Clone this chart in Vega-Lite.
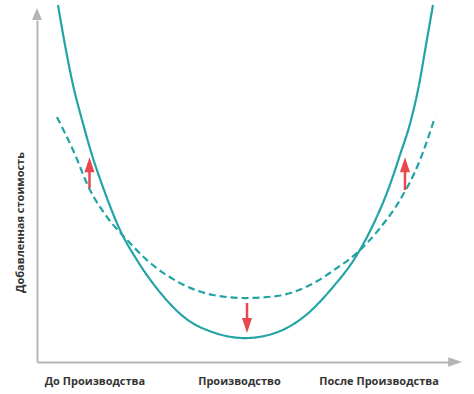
{
  "$schema": "https://vega.github.io/schema/vega-lite/v6.json",
  "width": 413,
  "height": 342,
  "autosize": {"type": "none"},
  "padding": {"left": 37, "top": 20, "right": 24, "bottom": 32},
  "background": "white",
  "config": {"view": {"stroke": null}, "axis": {"grid": false}},
  "encoding": {
    "x": {
      "field": "x", "type": "quantitative",
      "scale": {"domain": [0, 100], "nice": false, "zero": false},
      "axis": {
        "title": null, "values": [13.9, 48.9, 82.7],
        "labelExpr": "datum.value < 30 ? 'До Производства' : datum.value < 70 ? 'Производство' : 'После Производства'",
        "ticks": false, "domainColor": "#b5b5b5", "domainWidth": 2,
        "labelFont": "Open Sans", "labelFontWeight": "bold", "labelFontSize": 11,
        "labelColor": "#333333", "labelPadding": 13, "labelFlush": false, "labelOverlap": false
      }
    },
    "y": {
      "field": "y", "type": "quantitative",
      "scale": {"domain": [0, 100], "nice": false, "zero": false},
      "axis": {
        "title": "Добавленная стоимость", "labels": false, "ticks": false,
        "domainColor": "#b5b5b5", "domainWidth": 2,
        "titleFont": "Open Sans", "titleFontWeight": "bold", "titleFontSize": 11,
        "titleColor": "#333333", "titleX": -17, "titleY": 202,
        "titleAlign": "center", "titleBaseline": "middle", "titleAngle": 270
      }
    }
  },
  "layer": [
    {
      "data": {"values": [
        {"series": "Новая", "x": 5.08, "y": 104.4},
        {"series": "Новая", "x": 6.78, "y": 92.7},
        {"series": "Новая", "x": 8.72, "y": 81.0},
        {"series": "Новая", "x": 10.90, "y": 70.8},
        {"series": "Новая", "x": 13.32, "y": 60.5},
        {"series": "Новая", "x": 16.22, "y": 50.3},
        {"series": "Новая", "x": 20.10, "y": 38.6},
        {"series": "Новая", "x": 24.21, "y": 29.8},
        {"series": "Новая", "x": 29.30, "y": 21.1},
        {"series": "Новая", "x": 35.84, "y": 12.9},
        {"series": "Новая", "x": 43.10, "y": 8.5},
        {"series": "Новая", "x": 50.36, "y": 7.0},
        {"series": "Новая", "x": 57.63, "y": 8.48},
        {"series": "Новая", "x": 65.13, "y": 13.74},
        {"series": "Новая", "x": 71.67, "y": 21.93},
        {"series": "Новая", "x": 77.00, "y": 30.41},
        {"series": "Новая", "x": 81.36, "y": 40.06},
        {"series": "Новая", "x": 84.99, "y": 50.29},
        {"series": "Новая", "x": 87.89, "y": 60.53},
        {"series": "Новая", "x": 90.56, "y": 70.76},
        {"series": "Новая", "x": 92.49, "y": 81.0},
        {"series": "Новая", "x": 94.19, "y": 92.7},
        {"series": "Новая", "x": 95.88, "y": 104.4},
        {"series": "Исходная", "x": 4.84, "y": 71.6},
        {"series": "Исходная", "x": 8.72, "y": 62.0},
        {"series": "Исходная", "x": 12.83, "y": 50.3},
        {"series": "Исходная", "x": 16.95, "y": 42.4},
        {"series": "Исходная", "x": 21.79, "y": 35.7},
        {"series": "Исходная", "x": 26.63, "y": 29.8},
        {"series": "Исходная", "x": 34.62, "y": 23.1},
        {"series": "Исходная", "x": 42.62, "y": 19.6},
        {"series": "Исходная", "x": 50.36, "y": 18.7},
        {"series": "Исходная", "x": 58.11, "y": 19.3},
        {"series": "Исходная", "x": 65.62, "y": 22.22},
        {"series": "Исходная", "x": 72.64, "y": 27.49},
        {"series": "Исходная", "x": 77.72, "y": 32.16},
        {"series": "Исходная", "x": 83.05, "y": 39.18},
        {"series": "Исходная", "x": 87.89, "y": 47.37},
        {"series": "Исходная", "x": 92.74, "y": 59.06},
        {"series": "Исходная", "x": 96.37, "y": 71.64}
      ]},
      "mark": {"type": "line", "interpolate": "monotone", "strokeWidth": 2.2, "color": "#22a3a6"},
      "encoding": {
        "strokeDash": {
          "field": "series", "type": "nominal",
          "scale": {"domain": ["Новая", "Исходная"], "range": [[1, 0], [7, 4]]},
          "legend": null
        }
      }
    },
    {
      "data": {"values": [
        {"x": 12.71, "y": 50.9, "y2": 56.1},
        {"x": 50.85, "y": 17.25, "y2": 12.3},
        {"x": 89.1, "y": 50.3, "y2": 56.1}
      ]},
      "mark": {"type": "rule", "color": "#e8474f", "strokeWidth": 2.5},
      "encoding": {"y2": {"field": "y2"}}
    },
    {
      "data": {"values": [
        {"x": 12.71, "y": 59.9, "dir": "up"},
        {"x": 50.85, "y": 8.5, "dir": "down"},
        {"x": 89.1, "y": 59.9, "dir": "up"}
      ]},
      "mark": {"type": "point", "filled": true, "color": "#e8474f", "opacity": 1, "size": 225, "strokeWidth": 0},
      "encoding": {
        "shape": {
          "field": "dir", "type": "nominal",
          "scale": {"domain": ["up", "down", "axis-up", "axis-right"], "range": ["M0,0L0.67,2L-0.67,2Z", "M0,0L0.67,-2L-0.67,-2Z", "M0,0L0.83,2L-0.83,2Z", "M0,0L-2.3,-0.8L-2.3,0.8Z"]},
          "legend": null
        }
      }
    },
    {
      "data": {"values": [
        {"x": 0, "y": 103.5, "dir": "axis-up"},
        {"x": 102.9, "y": 0, "dir": "axis-right"}
      ]},
      "mark": {"type": "point", "filled": true, "color": "#b5b5b5", "opacity": 1, "size": 144, "strokeWidth": 0},
      "encoding": {
        "shape": {
          "field": "dir", "type": "nominal",
          "scale": {"domain": ["up", "down", "axis-up", "axis-right"], "range": ["M0,0L0.67,2L-0.67,2Z", "M0,0L0.67,-2L-0.67,-2Z", "M0,0L0.83,2L-0.83,2Z", "M0,0L-2.3,-0.8L-2.3,0.8Z"]},
          "legend": null
        }
      }
    }
  ]
}
